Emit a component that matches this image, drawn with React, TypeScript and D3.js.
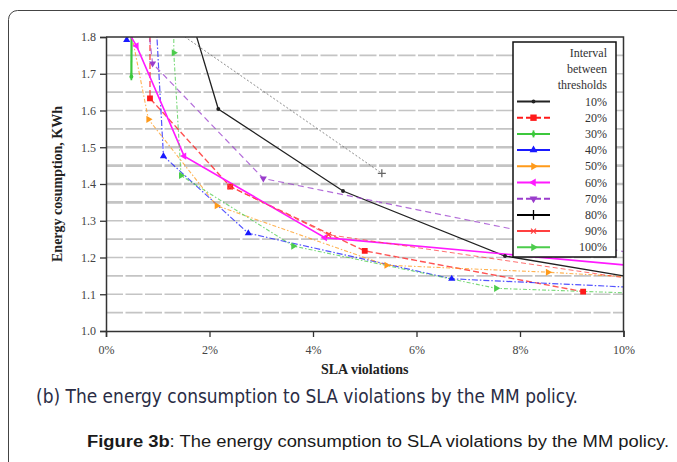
import React, { useRef, useEffect } from 'react';
import * as d3 from 'd3';

const W = 677;
const H = 462;

// axis ticks
const xTicks = [0, 2, 4, 6, 8, 10];
const yTicks = [1.0, 1.1, 1.2, 1.3, 1.4, 1.5, 1.6, 1.7, 1.8];
const gridLevels = [1.05, 1.1, 1.15, 1.2, 1.25, 1.3, 1.35, 1.4, 1.45, 1.5, 1.55, 1.6, 1.65, 1.7, 1.75];
const thickGrid = [1.35, 1.4, 1.45, 1.5];

const legendTitle = ['Interval', 'between', 'thresholds'];
const seriesNames = ['10%', '20%', '30%', '40%', '50%', '60%', '70%', '80%', '90%', '100%'];

// [SLA violations %, energy KWh]
const s10 = [[1.54, 1.9], [2.17, 1.604], [4.58, 1.381], [7.71, 1.204], [10.0, 1.15]];
const s20 = [[0.85, 1.95], [0.85, 1.633], [2.4, 1.393], [5.0, 1.218], [9.22, 1.107]];
const s30 = [[0.5, 1.95], [0.49, 1.692]];
const s40 = [[0.4, 1.792], [0.93, 1.94], [1.11, 1.476], [2.75, 1.266], [6.68, 1.142], [10.0, 1.12]];
const s50 = [[0.42, 1.86], [0.82, 1.576], [2.14, 1.341], [5.42, 1.179], [8.54, 1.16], [10.0, 1.148]];
const s60 = [[0.4, 1.82], [0.59, 1.776], [1.51, 1.476], [4.23, 1.254], [10.0, 1.18]];
const s70 = [[0.8, 1.85], [0.9, 1.728], [3.04, 1.415], [10.0, 1.216]];
const s80 = [[1.2, 1.832], [5.33, 1.429]];
const s90 = [[2.4, 1.393], [4.3, 1.262], [10.0, 1.145]];
const s100 = [[1.31, 1.95], [1.31, 1.757], [1.45, 1.423], [3.62, 1.231], [7.54, 1.116], [10.0, 1.104]];

const seriesData = [s10, s20, s30, s40, s50, s60, s70, s80, s90, s100];

const styles = [
  { color: '#222', width: 1.3, dash: null, marker: 'dot', legendDash: null },
  { color: '#ff1a1a', width: 1.4, dash: '6,3', marker: 'square', legendDash: '6,3' },
  { color: '#3cc83c', width: 2.2, dash: null, marker: 'tick', legendDash: null },
  { color: '#1a1aff', width: 1.2, dash: '6,2,1.5,2', marker: 'triUp', legendDash: null },
  { color: '#ff9a1a', width: 1.1, dash: '4,2,1.5,2', marker: 'triRight', legendDash: null },
  { color: '#ff1aff', width: 1.6, dash: null, marker: 'triLeft', legendDash: null },
  { color: '#9a3ccc', width: 1.2, dash: '6,4', marker: 'triDown', legendDash: '6,3' },
  { color: '#666', width: 1, dash: '2,2', marker: 'plus', legendDash: null, legendColor: '#000' },
  { color: '#ff4040', width: 1, dash: '5,3', marker: 'x', legendDash: null },
  { color: '#4ccc4c', width: 1.1, dash: '4,2,1.5,2', marker: 'triRight', legendDash: null },
];

const plot = { left: 106, right: 623.5, top: 37, bottom: 331 };

const drawMarker = (g, type, color, x, y, big) => {
  const k = big ? 1.2 : 1;
  if (type === 'plus') {
    g.append('path').attr('d', `M${x - 4 * k},${y}H${x + 4 * k}M${x},${y - 4 * k}V${y + 4 * k}`)
      .attr('stroke', color).attr('stroke-width', 1.3).attr('fill', 'none');
    return;
  }
  if (type === 'x') {
    g.append('path').attr('d', `M${x - 2.5},${y - 2.5}L${x + 2.5},${y + 2.5}M${x - 2.5},${y + 2.5}L${x + 2.5},${y - 2.5}`)
      .attr('stroke', color).attr('stroke-width', 1.2).attr('fill', 'none');
    return;
  }
  if (type === 'tick') {
    g.append('path').attr('d', `M${x},${y - 3.5}V${y + 3.5}`)
      .attr('stroke', color).attr('stroke-width', 1.8).attr('fill', 'none');
    g.append('circle').attr('cx', x).attr('cy', y).attr('r', 2).attr('fill', color);
    return;
  }
  let sym = d3.symbolTriangle;
  let size = 22 * k;
  let rot = 0;
  if (type === 'dot') { sym = d3.symbolCircle; size = 12; }
  if (type === 'square') { sym = d3.symbolSquare; size = 34 * k; }
  if (type === 'triDown') rot = 180;
  if (type === 'triLeft') rot = -90;
  if (type === 'triRight') rot = 90;
  g.append('path')
    .attr('d', d3.symbol().type(sym).size(size)())
    .attr('transform', `translate(${x},${y}) rotate(${rot})`)
    .attr('fill', color);
};

const App = () => {
  const ref = useRef(null);

  useEffect(() => {
    const svg = d3.select(ref.current);
    svg.selectAll('*').remove();

    const x = d3.scaleLinear().domain([0, 10]).range([plot.left, plot.right]);
    const y = d3.scaleLinear().domain([1.0, 1.8]).range([plot.bottom, plot.top]);

    // outer frame
    svg.append('rect')
      .attr('x', 8.5).attr('y', 10.5).attr('width', 720).attr('height', 470)
      .attr('rx', 9).attr('fill', 'none').attr('stroke', '#444').attr('stroke-width', 1);

    // grid
    svg.append('g').selectAll('line')
      .data(gridLevels)
      .enter().append('line')
      .attr('x1', plot.left).attr('x2', plot.right)
      .attr('y1', d => y(d)).attr('y2', d => y(d))
      .attr('stroke', '#c4c4c4')
      .attr('stroke-width', d => (thickGrid.some(t => Math.abs(t - d) < 1e-6) ? 2.6 : 1.6))
      .attr('stroke-dasharray', '17,2.5');

    svg.append('defs').append('clipPath').attr('id', 'plotClip')
      .append('rect')
      .attr('x', plot.left).attr('y', plot.top)
      .attr('width', plot.right - plot.left).attr('height', plot.bottom - plot.top);

    const lines = svg.append('g').attr('clip-path', 'url(#plotClip)');
    const line = d3.line().x(d => x(d[0])).y(d => y(d[1]));

    seriesData.forEach((data, i) => {
      const st = styles[i];
      lines.append('path')
        .attr('d', line(data))
        .attr('fill', 'none')
        .attr('stroke', st.color)
        .attr('stroke-width', st.width)
        .attr('stroke-dasharray', st.dash)
        .attr('stroke-opacity', i === 0 || i === 5 || i === 2 ? 1 : 0.75);
    });
    // markers only where they sit inside the frame
    seriesData.forEach((data, i) => {
      const st = styles[i];
      data.filter(d => d[0] < 9.9 && d[1] < 1.8)
        .forEach(d => drawMarker(lines, st.marker, st.color, x(d[0]), y(d[1]), false));
    });

    // plot frame (top + right)
    svg.append('path')
      .attr('d', `M${plot.left},${plot.top}H${plot.right}V${plot.bottom}`)
      .attr('fill', 'none').attr('stroke', '#333').attr('stroke-width', 1.5);

    // axes
    const xAxis = svg.append('g')
      .attr('transform', `translate(0,${plot.bottom})`)
      .call(d3.axisBottom(x).tickValues(xTicks).tickSize(6).tickPadding(8).tickFormat(d => `${d}%`));
    const yAxis = svg.append('g')
      .attr('transform', `translate(${plot.left},0)`)
      .call(d3.axisLeft(y).tickValues(yTicks).tickSize(6).tickPadding(4).tickFormat(d3.format('.1f')));
    [xAxis, yAxis].forEach(a => {
      a.select('.domain').attr('stroke', '#333').attr('stroke-width', 1.5);
      a.selectAll('.tick line').attr('stroke', '#333').attr('stroke-width', 1.3);
      a.selectAll('.tick text')
        .attr('font-family', '"Liberation Serif", serif')
        .attr('font-size', 12)
        .attr('fill', '#444');
    });

    // axis titles
    svg.append('text')
      .attr('x', (plot.left + plot.right) / 2).attr('y', 374)
      .attr('text-anchor', 'middle')
      .attr('font-family', '"Liberation Serif", serif')
      .attr('font-weight', 'bold').attr('font-size', 14).attr('fill', '#222')
      .text('SLA violations');
    svg.append('text')
      .attr('transform', `translate(62,${(plot.top + plot.bottom) / 2}) rotate(-90)`)
      .attr('text-anchor', 'middle')
      .attr('font-family', '"Liberation Serif", serif')
      .attr('font-weight', 'bold').attr('font-size', 14).attr('fill', '#222')
      .text('Energy cosumption, KWh');

    // legend
    const lg = svg.append('g');
    lg.append('rect')
      .attr('x', 513).attr('y', 42).attr('width', 103).attr('height', 215)
      .attr('fill', '#fff').attr('stroke', '#111').attr('stroke-width', 1.5);
    legendTitle.forEach((t, i) => {
      lg.append('text')
        .attr('x', 607).attr('y', 57 + i * 16)
        .attr('text-anchor', 'end')
        .attr('font-family', '"Liberation Serif", serif')
        .attr('font-size', 12).attr('fill', '#333')
        .text(t);
    });
    seriesNames.forEach((name, i) => {
      const st = styles[i];
      const cy = 101.5 + i * 16.2;
      const col = st.legendColor || st.color;
      lg.append('line')
        .attr('x1', 517).attr('x2', 550).attr('y1', cy).attr('y2', cy)
        .attr('stroke', col).attr('stroke-width', 2)
        .attr('stroke-dasharray', st.legendDash);
      drawMarker(lg, st.marker, col, 533.5, cy, true);
      lg.append('text')
        .attr('x', 607).attr('y', cy + 4)
        .attr('text-anchor', 'end')
        .attr('font-family', '"Liberation Serif", serif')
        .attr('font-size', 12).attr('fill', '#333')
        .text(name);
    });

    // captions
    svg.append('text')
      .attr('x', 36).attr('y', 403)
      .attr('font-family', '"DejaVu Sans Condensed", "DejaVu Sans", sans-serif')
      .attr('font-size', 19).attr('fill', '#2a2d45')
      .attr('textLength', 542).attr('lengthAdjust', 'spacingAndGlyphs')
      .text('(b) The energy consumption to SLA violations by the MM policy.');
    const cap = svg.append('text')
      .attr('x', 87).attr('y', 447)
      .attr('font-family', '"Liberation Sans", Arial, sans-serif')
      .attr('font-size', 16).attr('fill', '#1a1a1a')
      .attr('textLength', 582).attr('lengthAdjust', 'spacingAndGlyphs');
    cap.append('tspan').attr('font-weight', 'bold').text('Figure 3b');
    cap.append('tspan').text(': The energy consumption to SLA violations by the MM policy.');
  }, []);

  return (
    <svg
      ref={ref}
      width={W}
      height={H}
      style={{ position: 'absolute', left: 0, top: 0, background: '#fff' }}
    />
  );
};

export default App;
